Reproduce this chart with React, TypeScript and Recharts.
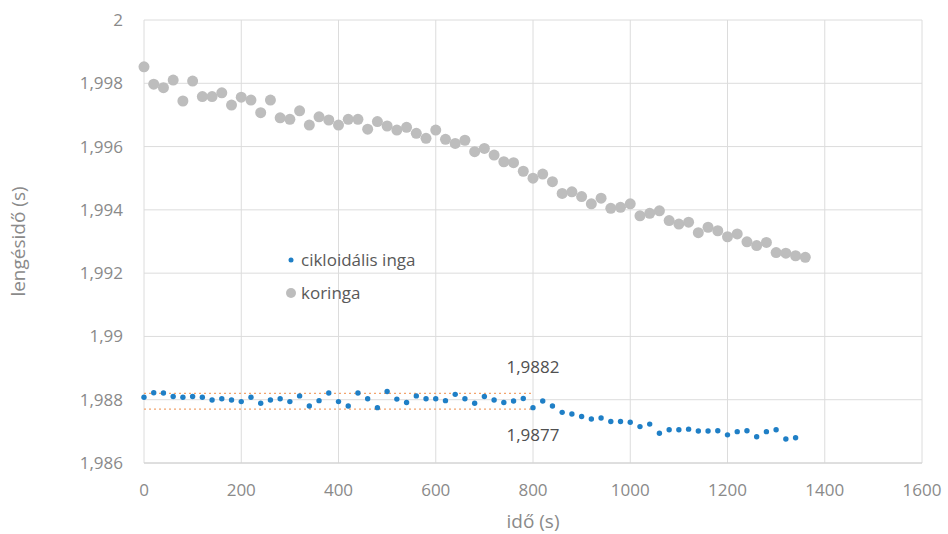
import React from 'react';
import { ScatterChart, Scatter, XAxis, YAxis, CartesianGrid, Legend, ReferenceLine, ReferenceDot } from 'recharts';

const FONT = '"Open Sans", sans-serif';

// idő (s) – mérési időpontok
const cikloidTime = [
  0, 20, 40, 60, 80, 100, 120, 140, 160, 180, 200, 220, 240, 260, 280, 300, 320, 340, 360, 380,
  400, 420, 440, 460, 480, 500, 520, 540, 560, 580, 600, 620, 640, 660, 680, 700, 720, 740, 760, 780,
  800, 820, 840, 860, 880, 900, 920, 940, 960, 980, 1000, 1020, 1040, 1060, 1080, 1100, 1120, 1140, 1160, 1180,
  1200, 1220, 1240, 1260, 1280, 1300, 1320, 1340,
];
const cikloidPeriod = [
  1.98808, 1.98822, 1.98821, 1.9881, 1.98808, 1.9881, 1.98808, 1.98799, 1.98803, 1.98799,
  1.98794, 1.98808, 1.98789, 1.98799, 1.98803, 1.98794, 1.98812, 1.9878, 1.98797, 1.98821,
  1.98794, 1.9878, 1.98821, 1.98803, 1.98775, 1.98826, 1.98802, 1.98791, 1.98812, 1.98803,
  1.98803, 1.98797, 1.98817, 1.98803, 1.98789, 1.9881, 1.98799, 1.98791, 1.98796, 1.98804,
  1.98775, 1.98796, 1.9878, 1.9876, 1.98755, 1.98747, 1.98739, 1.98742, 1.98731, 1.98731,
  1.98729, 1.98715, 1.98723, 1.98694, 1.98705, 1.98705, 1.98707, 1.98701, 1.98701, 1.98702,
  1.98689, 1.98699, 1.98702, 1.98683, 1.98699, 1.98705, 1.98676, 1.9868,
];

const koringaTime = [
  0, 20, 40, 60, 80, 100, 120, 140, 160, 180, 200, 220, 240, 260, 280, 300, 320, 340, 360, 380,
  400, 420, 440, 460, 480, 500, 520, 540, 560, 580, 600, 620, 640, 660, 680, 700, 720, 740, 760, 780,
  800, 820, 840, 860, 880, 900, 920, 940, 960, 980, 1000, 1020, 1040, 1060, 1080, 1100, 1120, 1140, 1160, 1180,
  1200, 1220, 1240, 1260, 1280, 1300, 1320, 1340, 1360,
];
const koringaPeriod = [
  1.99852, 1.99797, 1.99786, 1.9981, 1.99744, 1.99807, 1.99758, 1.99758, 1.9977, 1.99731,
  1.99756, 1.99747, 1.99707, 1.99747, 1.99691, 1.99686, 1.99713, 1.99668, 1.99694, 1.99684,
  1.99668, 1.99686, 1.99686, 1.99655, 1.99679, 1.99665, 1.99652, 1.99661, 1.99642, 1.99626,
  1.99652, 1.99623, 1.9961, 1.9962, 1.99584, 1.99594, 1.99573, 1.99552, 1.99549, 1.99522,
  1.995, 1.99513, 1.99489, 1.99452, 1.99457, 1.99442, 1.99419, 1.99437, 1.99405, 1.99408,
  1.99419, 1.99381, 1.99389, 1.99397, 1.99366, 1.99355, 1.99361, 1.99328, 1.99345, 1.99334,
  1.99315, 1.99324, 1.99299, 1.99287, 1.99297, 1.99265, 1.99263, 1.99255, 1.9925,
];

// szórási sáv a ciklois ingára (0–800 s)
const bandLevels = [1.9882, 1.9877];
const bandLabels = ['1,9882', '1,9877'];
const bandEnd = 800;

const xTicks = [0, 200, 400, 600, 800, 1000, 1200, 1400, 1600];
const yTicks = [1.986, 1.988, 1.99, 1.992, 1.994, 1.996, 1.998, 2];

const cikloidData = cikloidTime.map((t, i) => ({ t, p: cikloidPeriod[i] }));
const koringaData = koringaTime.map((t, i) => ({ t, p: koringaPeriod[i] }));

const fmt = (v: number) => String(Number(v.toFixed(4))).replace('.', ',');

const BLUE = '#1f7fc6';
const GRAY = '#bdbdbd';

const LegendBox = (props: any) => {
  const { payload = [] } = props;
  return (
    <div style={{ fontFamily: FONT, fontSize: 17, color: '#595959' }}>
      {payload.map((entry: any) => (
        <div key={entry.value} style={{ display: 'flex', alignItems: 'center', height: 33 }}>
          <svg width={16} height={14} style={{ marginRight: 2 }}>
            <circle cx={8} cy={7} r={entry.value === 'koringa' ? 5 : 2.5} fill={entry.color} />
          </svg>
          <span>{entry.value}</span>
        </div>
      ))}
    </div>
  );
};

const App: React.FC = () => {
  return (
    <div style={{ position: 'absolute', left: 0, top: 0, background: '#fff' }}>
      <ScatterChart width={948} height={534} margin={{ top: 20, right: 26, left: 0, bottom: 0 }}>
        <CartesianGrid stroke="#dcdcdc" />
        <XAxis
          type="number"
          dataKey="t"
          domain={[0, 1600]}
          ticks={xTicks}
          height={71}
          axisLine={{ stroke: '#d0d0d0' }}
          tickLine={false}
          tickSize={0}
          tickMargin={21}
          tick={{ fontSize: 17, fill: '#8a8a8a', fontFamily: FONT }}
          label={{ value: 'idő (s)', position: 'insideBottom', offset: 6, style: { fontSize: 19, fill: '#8a8a8a', fontFamily: FONT } }}
        />
        <YAxis
          type="number"
          dataKey="p"
          domain={[1.986, 2]}
          ticks={yTicks}
          width={144}
          axisLine={false}
          tickLine={false}
          tickSize={0}
          tickMargin={21}
          tickFormatter={fmt}
          tick={{ fontSize: 17, fill: '#8a8a8a', fontFamily: FONT }}
          label={{ value: 'lengésidő (s)', angle: -90, position: 'insideLeft', offset: 18, style: { textAnchor: 'middle', fontSize: 19, fill: '#8a8a8a', fontFamily: FONT } }}
        />
        <Legend
          layout="vertical"
          verticalAlign="middle"
          align="center"
          wrapperStyle={{ left: 283, top: 243, width: 'auto' }}
          content={<LegendBox />}
        />
        {bandLevels.map((lvl) => (
          <ReferenceLine
            key={lvl}
            segment={[{ x: 0, y: lvl }, { x: bandEnd, y: lvl }]}
            stroke="#f2a46e"
            strokeDasharray="2 3"
            strokeWidth={1.2}
          />
        ))}
        <Scatter
          name="cikloidális inga"
          data={cikloidData}
          fill={BLUE}
          isAnimationActive={false}
          shape={(p: any) => <circle cx={p.cx} cy={p.cy} r={2.7} fill={BLUE} />}
        />
        <Scatter
          name="koringa"
          data={koringaData}
          fill={GRAY}
          isAnimationActive={false}
          shape={(p: any) => <circle cx={p.cx} cy={p.cy} r={5.5} fill={GRAY} />}
        />
        {bandLevels.map((lvl, i) => (
          <ReferenceDot
            key={'lbl' + lvl}
            x={bandEnd}
            y={lvl}
            r={0}
            fill="none"
            stroke="none"
            label={{
              value: bandLabels[i],
              position: i === 0 ? 'top' : 'bottom',
              offset: 20,
              style: { fontSize: 17, fill: '#505050', fontFamily: FONT },
            }}
          />
        ))}
      </ScatterChart>
    </div>
  );
};

export default App;
